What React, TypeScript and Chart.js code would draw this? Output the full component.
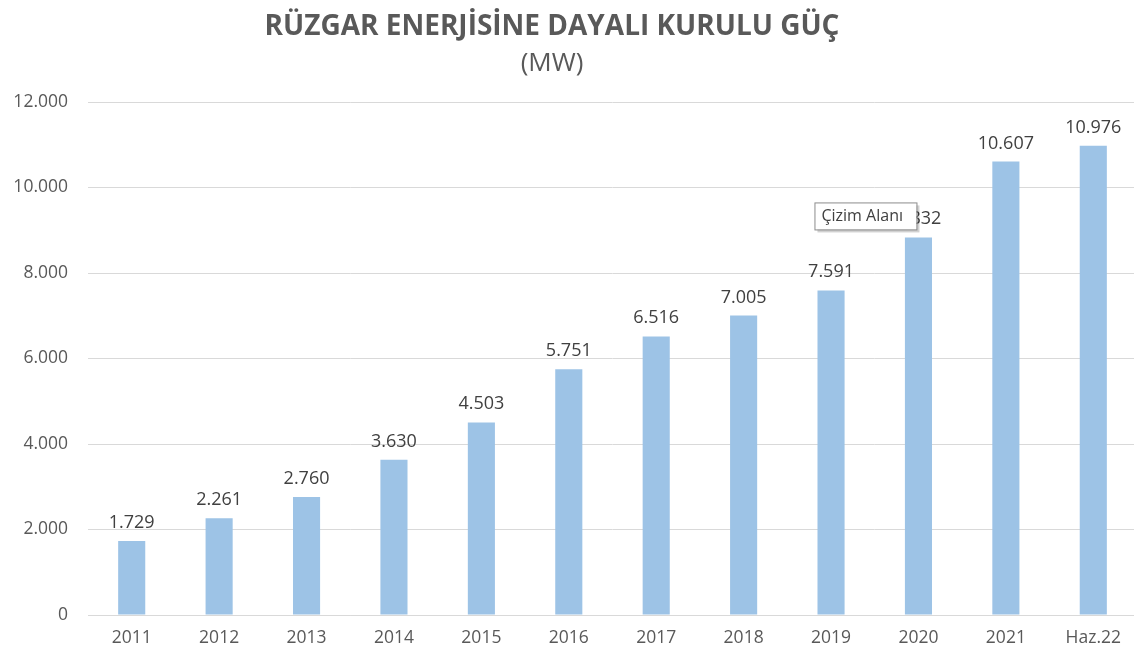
import React, { useEffect, useRef } from "react";
import { Chart, registerables } from "chart.js";

Chart.register(...registerables);

const categories = ["2011", "2012", "2013", "2014", "2015", "2016", "2017", "2018", "2019", "2020", "2021", "Haz.22"];
const capacityMW = [1729, 2261, 2760, 3630, 4503, 5751, 6516, 7005, 7591, 8832, 10607, 10976];
const yTicks = [0, 2000, 4000, 6000, 8000, 10000, 12000];
const titleText = "RÜZGAR ENERJİSİNE DAYALI KURULU GÜÇ";
const subtitleText = "(MW)";
const tooltipText = "Çizim Alanı";
const tooltipIndex = 9;

const FONT = "'Open Sans', 'DejaVu Sans', sans-serif";

function fmt(v: number): string {
  return v.toString().replace(/\B(?=(\d{3})+(?!\d))/g, ".");
}

const overlayPlugin = {
  id: "overlay",
  afterDatasetsDraw(chart: any) {
    const ctx = chart.ctx;
    ctx.save();
    // titles
    ctx.textAlign = "center";
    ctx.textBaseline = "middle";
    ctx.fillStyle = "#595959";
    ctx.font = `bold 24px ${FONT}`;
    const w = ctx.measureText(titleText).width;
    const size = 24 * (575 / w);
    ctx.font = `bold ${size.toFixed(1)}px ${FONT}`;
    ctx.fillText(titleText, 552, 27);
    ctx.font = `26px ${FONT}`;
    ctx.fillText(subtitleText, 552, 64);

    // data labels
    const meta = chart.getDatasetMeta(0);
    ctx.font = `18px ${FONT}`;
    ctx.fillStyle = "#404040";
    ctx.textBaseline = "alphabetic";
    meta.data.forEach((bar: any, i: number) => {
      ctx.fillText(fmt(capacityMW[i]), bar.x, bar.y - 13);
    });

    // tooltip-like box
    const b = meta.data[tooltipIndex];
    const bx = b.x - 104;
    const by = b.y - 35;
    const bw = 102;
    const bh = 27;
    ctx.fillStyle = "rgba(0,0,0,0.18)";
    ctx.fillRect(bx + 3, by + 3, bw, bh);
    ctx.fillStyle = "#ffffff";
    ctx.fillRect(bx, by, bw, bh);
    ctx.strokeStyle = "#8c8c8c";
    ctx.lineWidth = 1;
    ctx.strokeRect(bx + 0.5, by + 0.5, bw, bh);
    ctx.fillStyle = "#404040";
    ctx.font = `16px ${FONT}`;
    ctx.textAlign = "left";
    ctx.textBaseline = "middle";
    ctx.fillText(tooltipText, bx + 7, by + bh / 2 + 1);
    ctx.restore();
  },
};

export default function App() {
  const ref = useRef<HTMLCanvasElement>(null);

  useEffect(() => {
    document.body.style.margin = "0";
    const chart = new Chart(ref.current!, {
      type: "bar",
      data: {
        labels: categories,
        datasets: [
          {
            data: capacityMW,
            backgroundColor: "#9dc3e6",
            borderWidth: 0,
            barPercentage: 0.31,
            categoryPercentage: 1,
          },
        ],
      },
      options: {
        animation: false,
        responsive: false,
        maintainAspectRatio: false,
        layout: { padding: { top: 102, right: 0, bottom: 0, left: 0 } },
        plugins: {
          legend: { display: false },
          tooltip: { enabled: false },
          title: { display: false },
        },
        scales: {
          x: {
            grid: { display: false, drawTicks: false },
            border: { display: true, color: "#d9d9d9", width: 1 },
            ticks: { color: "#595959", font: { family: FONT, size: 17.5 }, padding: 13, maxRotation: 0 },
            afterFit(scale: any) {
              scale.height = 38;
            },
          },
          y: {
            min: 0,
            max: 12000,
            afterBuildTicks(scale: any) {
              scale.ticks = yTicks.map((v) => ({ value: v }));
            },
            grid: { color: "#d9d9d9", drawTicks: false },
            border: { display: false },
            ticks: {
              color: "#595959",
              font: { family: FONT, size: 17.5 },
              padding: 20,
              callback: (v: any) => fmt(Number(v)),
            },
            afterFit(scale: any) {
              scale.width = 88;
            },
          },
        },
      },
      plugins: [overlayPlugin],
    });
    return () => chart.destroy();
  }, []);

  return (
    <div style={{ width: 1134, height: 653, overflow: "hidden", position: "relative", background: "#fff" }}>
      <canvas ref={ref} width={1137} height={653} style={{ display: "block", width: 1137, height: 653 }} />
    </div>
  );
}
